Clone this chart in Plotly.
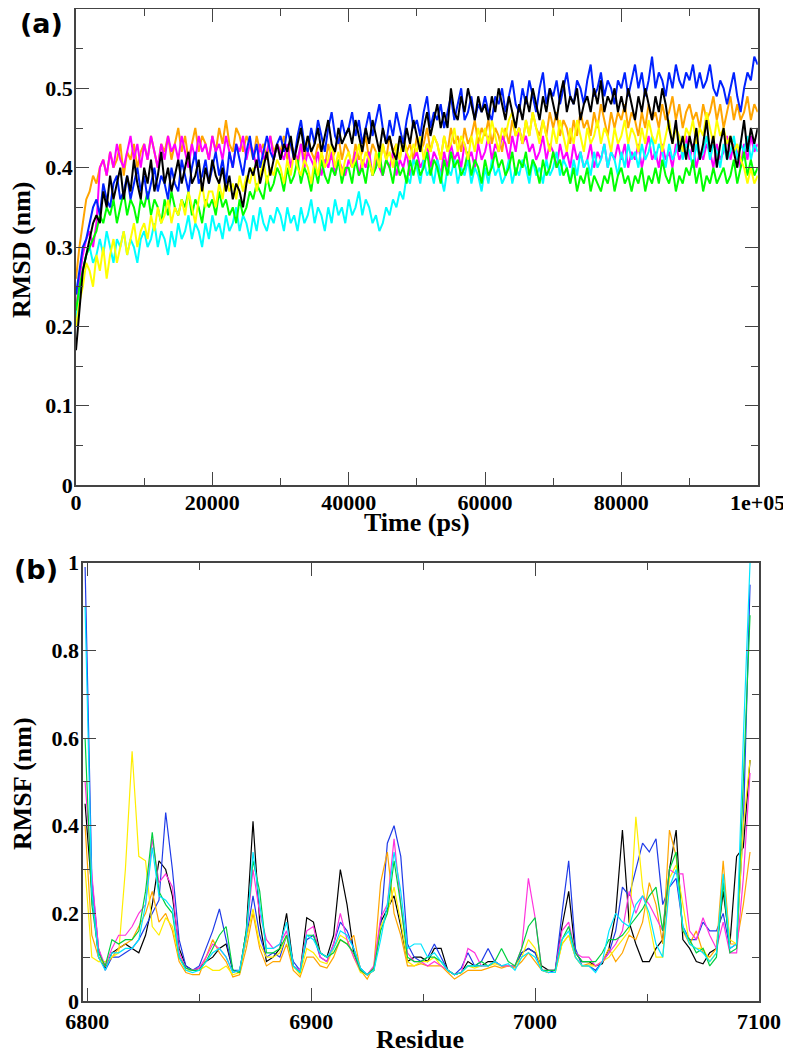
import plotly.graph_objects as go

# ---------------- Panel (a): RMSD vs time ----------------
time_ps = list(range(0, 100001, 500))

rmsd_blue = [
    0.24,0.27,0.30,0.31,0.33,0.35,0.36,0.34,0.38,0.36,0.35,0.38,0.39,0.36,0.37,0.39,0.36,0.38,0.40,0.37,
    0.39,0.36,0.38,0.40,0.37,0.39,0.38,0.36,0.40,0.38,0.37,0.41,0.39,0.37,0.40,0.42,0.38,0.39,0.41,0.38,
    0.40,0.42,0.39,0.41,0.38,0.42,0.40,0.43,0.41,0.39,0.42,0.44,0.41,0.43,0.40,0.42,0.44,0.42,0.41,0.43,
    0.44,0.42,0.45,0.43,0.41,0.44,0.46,0.43,0.42,0.45,0.43,0.46,0.44,0.42,0.45,0.47,0.44,0.43,0.46,0.44,
    0.45,0.47,0.44,0.46,0.43,0.45,0.47,0.44,0.46,0.48,0.45,0.43,0.46,0.44,0.47,0.45,0.43,0.46,0.48,0.45,
    0.46,0.44,0.47,0.49,0.45,0.47,0.46,0.48,0.45,0.47,0.49,0.46,0.48,0.50,0.46,0.47,0.49,0.46,0.48,0.47,
    0.49,0.47,0.46,0.49,0.48,0.50,0.47,0.49,0.51,0.48,0.47,0.50,0.48,0.51,0.49,0.47,0.50,0.52,0.48,0.50,
    0.49,0.51,0.48,0.50,0.52,0.49,0.48,0.51,0.50,0.48,0.51,0.53,0.49,0.50,0.52,0.49,0.51,0.50,0.48,0.51,
    0.50,0.52,0.49,0.51,0.53,0.50,0.52,0.49,0.51,0.54,0.50,0.52,0.51,0.49,0.52,0.50,0.53,0.51,0.50,0.52,
    0.51,0.53,0.50,0.52,0.50,0.51,0.53,0.50,0.49,0.51,0.50,0.48,0.50,0.52,0.49,0.47,0.50,0.52,0.51,0.54,
    0.53]
rmsd_black = [
    0.17,0.22,0.27,0.29,0.31,0.33,0.34,0.33,0.37,0.35,0.39,0.36,0.38,0.40,0.36,0.39,0.37,0.41,0.38,0.36,
    0.40,0.38,0.41,0.37,0.39,0.42,0.38,0.40,0.37,0.39,0.41,0.38,0.40,0.42,0.38,0.39,0.41,0.37,0.40,0.38,
    0.41,0.39,0.38,0.40,0.37,0.39,0.36,0.38,0.37,0.35,0.38,0.40,0.39,0.41,0.38,0.40,0.42,0.39,0.41,0.43,
    0.41,0.43,0.42,0.44,0.41,0.43,0.45,0.42,0.44,0.42,0.43,0.45,0.42,0.44,0.46,0.43,0.42,0.45,0.43,0.44,
    0.45,0.43,0.46,0.44,0.42,0.45,0.43,0.46,0.44,0.42,0.45,0.43,0.44,0.42,0.41,0.44,0.42,0.45,0.43,0.46,
    0.44,0.42,0.45,0.47,0.44,0.46,0.48,0.45,0.47,0.45,0.50,0.47,0.46,0.49,0.47,0.50,0.48,0.46,0.49,0.47,
    0.48,0.46,0.49,0.47,0.50,0.48,0.46,0.49,0.47,0.45,0.48,0.46,0.49,0.47,0.50,0.48,0.46,0.49,0.47,0.50,
    0.48,0.46,0.49,0.51,0.47,0.49,0.48,0.50,0.46,0.48,0.49,0.47,0.50,0.48,0.51,0.47,0.49,0.48,0.50,0.47,
    0.49,0.47,0.50,0.48,0.46,0.49,0.47,0.50,0.48,0.46,0.49,0.47,0.50,0.48,0.45,0.43,0.46,0.42,0.44,0.41,
    0.44,0.42,0.45,0.41,0.43,0.46,0.42,0.44,0.40,0.43,0.45,0.41,0.44,0.42,0.40,0.43,0.46,0.42,0.45,0.43,
    0.45]
rmsd_orange = [
    0.26,0.30,0.33,0.36,0.37,0.39,0.38,0.40,0.41,0.39,0.42,0.40,0.41,0.43,0.39,0.42,0.41,0.43,0.40,0.42,
    0.43,0.41,0.44,0.42,0.40,0.43,0.42,0.44,0.41,0.43,0.45,0.42,0.44,0.41,0.43,0.45,0.42,0.44,0.43,0.41,
    0.44,0.42,0.45,0.43,0.46,0.43,0.42,0.45,0.44,0.42,0.44,0.43,0.41,0.44,0.42,0.43,0.41,0.44,0.42,0.43,
    0.42,0.44,0.41,0.43,0.42,0.40,0.43,0.41,0.44,0.42,0.41,0.43,0.42,0.40,0.43,0.41,0.42,0.44,0.41,0.43,
    0.42,0.40,0.43,0.41,0.42,0.44,0.41,0.43,0.42,0.40,0.43,0.41,0.44,0.42,0.43,0.41,0.44,0.42,0.43,0.41,
    0.44,0.42,0.43,0.45,0.42,0.44,0.43,0.41,0.44,0.42,0.45,0.43,0.44,0.42,0.45,0.43,0.44,0.46,0.43,0.45,
    0.44,0.46,0.43,0.45,0.44,0.42,0.45,0.43,0.46,0.44,0.45,0.43,0.46,0.44,0.47,0.45,0.44,0.46,0.44,0.47,
    0.45,0.47,0.44,0.46,0.45,0.43,0.46,0.44,0.47,0.45,0.46,0.44,0.47,0.45,0.48,0.46,0.44,0.47,0.45,0.47,
    0.46,0.48,0.45,0.47,0.46,0.44,0.47,0.45,0.48,0.46,0.47,0.45,0.48,0.46,0.47,0.49,0.46,0.48,0.45,0.47,
    0.48,0.46,0.47,0.45,0.48,0.46,0.47,0.49,0.46,0.48,0.45,0.47,0.49,0.46,0.48,0.46,0.47,0.49,0.46,0.48,
    0.47]
rmsd_magenta = [
    0.22,0.26,0.29,0.31,0.32,0.30,0.33,0.40,0.41,0.39,0.42,0.40,0.43,0.41,0.40,0.42,0.44,0.41,0.43,0.40,
    0.43,0.41,0.44,0.42,0.40,0.43,0.41,0.44,0.42,0.43,0.41,0.44,0.42,0.40,0.43,0.41,0.44,0.42,0.43,0.41,
    0.44,0.42,0.43,0.41,0.44,0.42,0.40,0.43,0.42,0.44,0.41,0.43,0.42,0.40,0.43,0.41,0.42,0.44,0.41,0.43,
    0.42,0.41,0.43,0.40,0.42,0.41,0.43,0.40,0.42,0.41,0.40,0.42,0.39,0.41,0.40,0.42,0.39,0.41,0.40,0.39,
    0.41,0.40,0.42,0.39,0.41,0.40,0.42,0.39,0.41,0.40,0.39,0.41,0.40,0.42,0.39,0.41,0.40,0.42,0.39,0.41,
    0.42,0.40,0.41,0.43,0.40,0.42,0.41,0.39,0.42,0.40,0.43,0.41,0.42,0.40,0.43,0.41,0.42,0.40,0.43,0.41,
    0.42,0.44,0.41,0.43,0.42,0.44,0.43,0.41,0.44,0.42,0.45,0.43,0.44,0.42,0.43,0.41,0.42,0.44,0.41,0.43,
    0.42,0.40,0.43,0.41,0.42,0.40,0.43,0.41,0.42,0.40,0.41,0.43,0.40,0.42,0.41,0.43,0.40,0.42,0.41,0.43,
    0.41,0.43,0.40,0.42,0.41,0.43,0.40,0.42,0.44,0.41,0.42,0.40,0.43,0.41,0.42,0.40,0.43,0.41,0.42,0.44,
    0.41,0.43,0.40,0.42,0.41,0.43,0.42,0.40,0.43,0.41,0.42,0.44,0.41,0.43,0.42,0.40,0.43,0.41,0.44,0.42,
    0.43]
rmsd_yellow = [
    0.20,0.23,0.25,0.28,0.27,0.25,0.29,0.27,0.30,0.26,0.29,0.31,0.28,0.30,0.32,0.29,0.31,0.33,0.30,0.32,
    0.33,0.31,0.34,0.32,0.35,0.33,0.34,0.36,0.33,0.35,0.34,0.36,0.34,0.37,0.35,0.33,0.36,0.38,0.35,0.37,
    0.37,0.35,0.38,0.36,0.39,0.37,0.38,0.36,0.39,0.37,0.39,0.38,0.40,0.37,0.39,0.41,0.38,0.40,0.39,0.41,
    0.40,0.38,0.41,0.39,0.42,0.40,0.39,0.41,0.40,0.38,0.41,0.39,0.42,0.40,0.41,0.43,0.40,0.42,0.39,0.41,
    0.42,0.40,0.41,0.43,0.40,0.42,0.41,0.39,0.42,0.40,0.43,0.41,0.42,0.40,0.43,0.41,0.44,0.42,0.41,0.43,
    0.42,0.44,0.41,0.43,0.42,0.44,0.43,0.41,0.44,0.42,0.43,0.45,0.42,0.44,0.43,0.41,0.44,0.42,0.45,0.43,
    0.45,0.43,0.46,0.44,0.42,0.45,0.44,0.46,0.47,0.44,0.45,0.43,0.46,0.44,0.47,0.45,0.43,0.46,0.44,0.42,
    0.45,0.43,0.46,0.44,0.42,0.45,0.43,0.46,0.44,0.42,0.45,0.43,0.44,0.46,0.43,0.45,0.44,0.42,0.45,0.43,
    0.44,0.46,0.43,0.45,0.44,0.42,0.45,0.43,0.46,0.44,0.43,0.45,0.42,0.44,0.46,0.43,0.45,0.44,0.42,0.45,
    0.44,0.46,0.43,0.45,0.44,0.47,0.45,0.43,0.46,0.44,0.45,0.43,0.44,0.42,0.43,0.41,0.40,0.38,0.40,0.38,
    0.39]
rmsd_green = [
    0.22,0.25,0.27,0.29,0.30,0.31,0.32,0.34,0.33,0.35,0.34,0.36,0.33,0.35,0.37,0.34,0.36,0.35,0.33,0.36,
    0.35,0.37,0.34,0.36,0.35,0.33,0.36,0.34,0.37,0.35,0.34,0.36,0.35,0.37,0.34,0.36,0.35,0.33,0.36,0.35,
    0.36,0.34,0.37,0.35,0.36,0.34,0.35,0.33,0.36,0.34,0.35,0.37,0.36,0.38,0.37,0.36,0.39,0.37,0.38,0.40,
    0.39,0.37,0.40,0.38,0.39,0.41,0.38,0.40,0.39,0.37,0.40,0.38,0.41,0.39,0.38,0.40,0.39,0.41,0.38,0.40,
    0.40,0.38,0.41,0.39,0.40,0.38,0.41,0.39,0.40,0.42,0.39,0.41,0.40,0.38,0.41,0.39,0.40,0.38,0.41,0.39,
    0.41,0.39,0.40,0.42,0.39,0.41,0.40,0.38,0.41,0.39,0.42,0.40,0.41,0.39,0.40,0.42,0.39,0.41,0.40,0.38,
    0.41,0.39,0.40,0.42,0.40,0.41,0.39,0.40,0.42,0.39,0.41,0.40,0.42,0.39,0.41,0.40,0.38,0.41,0.39,0.40,
    0.42,0.40,0.41,0.39,0.40,0.38,0.40,0.37,0.39,0.38,0.40,0.37,0.39,0.38,0.37,0.39,0.38,0.40,0.37,0.39,
    0.40,0.38,0.39,0.37,0.39,0.38,0.40,0.37,0.39,0.38,0.40,0.38,0.41,0.39,0.38,0.40,0.37,0.39,0.38,0.40,
    0.39,0.41,0.38,0.40,0.37,0.39,0.38,0.40,0.38,0.39,0.40,0.38,0.39,0.41,0.38,0.40,0.42,0.39,0.41,0.39,
    0.40]
rmsd_cyan = [
    0.21,0.24,0.27,0.29,0.30,0.28,0.29,0.31,0.29,0.32,0.30,0.28,0.31,0.30,0.32,0.29,0.31,0.30,0.28,0.31,
    0.32,0.30,0.31,0.33,0.30,0.32,0.31,0.29,0.32,0.30,0.33,0.31,0.32,0.34,0.31,0.33,0.32,0.30,0.33,0.31,
    0.34,0.32,0.33,0.31,0.34,0.32,0.33,0.35,0.32,0.34,0.33,0.31,0.34,0.32,0.35,0.33,0.32,0.34,0.33,0.35,
    0.34,0.32,0.35,0.33,0.34,0.32,0.35,0.33,0.34,0.36,0.33,0.35,0.34,0.32,0.35,0.33,0.36,0.34,0.35,0.33,
    0.36,0.34,0.35,0.37,0.34,0.36,0.35,0.33,0.34,0.32,0.33,0.35,0.34,0.36,0.35,0.37,0.36,0.39,0.38,0.41,
    0.40,0.38,0.41,0.39,0.40,0.38,0.41,0.39,0.37,0.40,0.39,0.41,0.38,0.40,0.39,0.41,0.38,0.40,0.39,0.37,
    0.40,0.38,0.41,0.39,0.40,0.38,0.39,0.41,0.38,0.40,0.39,0.41,0.40,0.38,0.41,0.39,0.40,0.38,0.41,0.39,
    0.40,0.42,0.39,0.41,0.40,0.38,0.41,0.39,0.42,0.40,0.41,0.39,0.42,0.40,0.41,0.43,0.40,0.42,0.41,0.39,
    0.42,0.40,0.43,0.41,0.42,0.40,0.43,0.41,0.42,0.44,0.41,0.43,0.42,0.40,0.43,0.41,0.42,0.44,0.41,0.43,
    0.42,0.40,0.43,0.41,0.42,0.44,0.41,0.43,0.42,0.40,0.43,0.41,0.42,0.44,0.41,0.43,0.42,0.44,0.41,0.43,
    0.42]

time_tickvals = [0, 20000, 40000, 60000, 80000, 100000]
time_ticktext = ["0", "20000", "40000", "60000", "80000", "1e+05"]
rmsd_tickvals = [0, 0.1, 0.2, 0.3, 0.4, 0.5]
rmsd_ticktext = ["0", "0.1", "0.2", "0.3", "0.4", "0.5"]

# ---------------- Panel (b): RMSF vs residue ----------------
residues = list(range(6799, 7097, 3))

rmsf_black = [0.45,0.25,0.10,0.075,0.11,0.12,0.13,0.12,0.11,0.15,
              0.22,0.32,0.30,0.24,0.12,0.08,0.07,0.075,0.09,0.10,
              0.12,0.13,0.07,0.065,0.16,0.41,0.18,0.09,0.10,0.12,
              0.20,0.08,0.065,0.19,0.18,0.11,0.10,0.15,0.30,0.22,
              0.11,0.07,0.06,0.07,0.18,0.21,0.24,0.17,0.09,0.10,
              0.10,0.09,0.12,0.12,0.07,0.06,0.065,0.09,0.08,0.08,
              0.09,0.09,0.08,0.08,0.08,0.11,0.12,0.11,0.08,0.07,
              0.07,0.17,0.25,0.11,0.09,0.09,0.08,0.085,0.12,0.20,
              0.39,0.18,0.13,0.09,0.09,0.12,0.14,0.30,0.39,0.14,
              0.12,0.09,0.085,0.11,0.12,0.25,0.13,0.33,0.35,0.55]
rmsf_blue = [0.99,0.28,0.12,0.07,0.10,0.10,0.11,0.12,0.14,0.17,
             0.20,0.23,0.43,0.30,0.14,0.08,0.07,0.08,0.12,0.16,
             0.21,0.14,0.07,0.07,0.14,0.24,0.15,0.10,0.11,0.10,
             0.15,0.09,0.07,0.14,0.15,0.10,0.09,0.13,0.18,0.16,
             0.12,0.075,0.06,0.075,0.17,0.36,0.40,0.33,0.13,0.10,
             0.09,0.10,0.13,0.10,0.07,0.06,0.075,0.11,0.08,0.09,
             0.12,0.09,0.08,0.08,0.08,0.11,0.12,0.11,0.07,0.065,
             0.07,0.20,0.32,0.12,0.08,0.08,0.07,0.09,0.11,0.16,
             0.26,0.24,0.30,0.36,0.34,0.37,0.22,0.26,0.28,0.17,
             0.14,0.14,0.18,0.16,0.16,0.20,0.12,0.13,0.40,0.95]
rmsf_orange = [0.40,0.15,0.10,0.08,0.10,0.12,0.13,0.14,0.17,0.20,
               0.25,0.18,0.20,0.16,0.09,0.065,0.06,0.06,0.10,0.14,
               0.11,0.09,0.055,0.06,0.12,0.20,0.12,0.08,0.09,0.09,
               0.13,0.07,0.055,0.10,0.10,0.08,0.075,0.10,0.14,0.13,
               0.15,0.07,0.05,0.08,0.27,0.34,0.20,0.15,0.08,0.08,
               0.085,0.08,0.08,0.08,0.065,0.05,0.06,0.07,0.07,0.07,
               0.075,0.08,0.075,0.08,0.075,0.09,0.11,0.09,0.07,0.065,
               0.065,0.13,0.15,0.10,0.08,0.085,0.08,0.09,0.12,0.09,
               0.11,0.15,0.14,0.18,0.27,0.22,0.13,0.39,0.33,0.16,
               0.13,0.16,0.11,0.10,0.12,0.32,0.13,0.13,0.22,0.34]
rmsf_magenta = [0.50,0.29,0.12,0.08,0.12,0.15,0.15,0.17,0.20,0.22,
                0.37,0.27,0.29,0.26,0.11,0.075,0.07,0.075,0.10,0.13,
                0.12,0.10,0.065,0.07,0.15,0.30,0.20,0.14,0.12,0.13,
                0.16,0.08,0.07,0.16,0.17,0.10,0.09,0.13,0.20,0.14,
                0.10,0.07,0.06,0.08,0.19,0.22,0.37,0.22,0.11,0.09,
                0.09,0.08,0.09,0.08,0.07,0.06,0.065,0.12,0.11,0.08,
                0.08,0.09,0.08,0.08,0.08,0.12,0.28,0.19,0.07,0.07,
                0.07,0.16,0.18,0.11,0.10,0.10,0.08,0.09,0.11,0.13,
                0.16,0.25,0.20,0.24,0.22,0.19,0.16,0.30,0.29,0.29,
                0.16,0.14,0.19,0.15,0.12,0.18,0.11,0.11,0.28,0.52]
rmsf_yellow = [0.30,0.10,0.09,0.09,0.10,0.11,0.30,0.57,0.33,0.32,
               0.17,0.15,0.19,0.17,0.10,0.07,0.07,0.07,0.08,0.07,
               0.07,0.08,0.06,0.065,0.14,0.21,0.13,0.10,0.10,0.11,
               0.15,0.08,0.06,0.12,0.11,0.09,0.085,0.12,0.15,0.14,
               0.10,0.065,0.06,0.07,0.17,0.20,0.26,0.18,0.09,0.08,
               0.09,0.09,0.10,0.08,0.07,0.06,0.065,0.08,0.075,0.08,
               0.08,0.085,0.08,0.08,0.08,0.10,0.14,0.12,0.07,0.065,
               0.065,0.13,0.15,0.10,0.08,0.08,0.08,0.09,0.10,0.12,
               0.14,0.16,0.42,0.26,0.18,0.10,0.10,0.28,0.31,0.22,
               0.13,0.12,0.12,0.09,0.11,0.28,0.14,0.13,0.40,0.55]
rmsf_green = [0.60,0.22,0.11,0.08,0.14,0.13,0.14,0.14,0.16,0.25,
              0.385,0.25,0.22,0.20,0.10,0.075,0.07,0.07,0.09,0.12,
              0.15,0.17,0.07,0.065,0.16,0.32,0.25,0.11,0.11,0.12,
              0.15,0.08,0.065,0.15,0.15,0.11,0.10,0.11,0.14,0.13,
              0.11,0.07,0.06,0.075,0.16,0.20,0.32,0.22,0.10,0.09,
              0.09,0.10,0.10,0.09,0.07,0.06,0.065,0.08,0.08,0.09,
              0.08,0.09,0.12,0.09,0.08,0.12,0.17,0.19,0.07,0.07,
              0.07,0.14,0.17,0.11,0.09,0.09,0.09,0.11,0.14,0.14,
              0.15,0.17,0.19,0.21,0.24,0.26,0.16,0.30,0.34,0.16,
              0.14,0.11,0.12,0.08,0.10,0.27,0.11,0.12,0.50,0.88]
rmsf_cyan = [0.90,0.25,0.10,0.07,0.11,0.11,0.12,0.12,0.14,0.22,
             0.35,0.24,0.23,0.21,0.10,0.07,0.065,0.07,0.09,0.11,
             0.12,0.10,0.065,0.07,0.15,0.34,0.22,0.12,0.12,0.13,
             0.18,0.08,0.065,0.15,0.14,0.11,0.10,0.12,0.16,0.15,
             0.12,0.075,0.06,0.07,0.14,0.22,0.34,0.25,0.12,0.13,
             0.13,0.10,0.11,0.09,0.07,0.06,0.065,0.08,0.08,0.08,
             0.08,0.09,0.08,0.085,0.07,0.10,0.11,0.10,0.07,0.065,
             0.065,0.14,0.16,0.10,0.08,0.08,0.065,0.09,0.16,0.20,
             0.18,0.17,0.22,0.24,0.20,0.13,0.10,0.26,0.30,0.17,
             0.13,0.12,0.11,0.09,0.11,0.29,0.12,0.13,0.60,1.00]

res_tickvals = [6800, 6900, 7000, 7100]
res_ticktext = ["6800", "6900", "7000", "7100"]
rmsf_tickvals = [0, 0.2, 0.4, 0.6, 0.8, 1.0]
rmsf_ticktext = ["0", "0.2", "0.4", "0.6", "0.8", "1"]

# ---------------- figure ----------------
# The page body keeps its default 8 px margin: the figure starts 8 px in,
# so it is made 8 px smaller than the window and positions are offset.
OFF = 8
W, H = 791 - OFF, 1054 - OFF
fig = go.Figure()

rmsd_series = [
    (rmsd_orange, "#ffa500"),
    (rmsd_magenta, "#ff00ff"),
    (rmsd_cyan, "#00ffff"),
    (rmsd_green, "#00ff00"),
    (rmsd_yellow, "#ffff00"),
    (rmsd_blue, "#0022ff"),
    (rmsd_black, "#000000"),
]
for vals, col in rmsd_series:
    fig.add_trace(go.Scatter(x=time_ps, y=vals, mode="lines",
                             line=dict(color=col, width=2.0),
                             xaxis="x", yaxis="y", showlegend=False,
                             hoverinfo="skip"))

rmsf_series = [
    (rmsf_black, "#000000"),
    (rmsf_blue, "#1f3be8"),
    (rmsf_orange, "#ffa500"),
    (rmsf_yellow, "#ffee00"),
    (rmsf_magenta, "#ff33dd"),
    (rmsf_green, "#00d040"),
    (rmsf_cyan, "#00e5ff"),
]
for vals, col in rmsf_series:
    fig.add_trace(go.Scatter(x=residues, y=vals, mode="lines",
                             line=dict(color=col, width=1.2),
                             xaxis="x2", yaxis="y2", showlegend=False,
                             hoverinfo="skip"))

tickfont = dict(family="Liberation Serif", size=22, color="black", weight="bold")
axcol = "#444444"
common = dict(showgrid=False, zeroline=False, showline=True, linecolor=axcol,
              linewidth=1.6, mirror="allticks", ticks="inside", ticklen=13,
              tickwidth=1.4, tickcolor=axcol, tickfont=tickfont, tickmode="array",
              automargin=False, ticklabeloverflow="allow")

def px_x(p):
    return (p - OFF) / W

def px_y(p):
    return 1 - (p - OFF) / H

fig.update_layout(
    width=W, height=H,
    margin=dict(l=0, r=0, t=0, b=0, autoexpand=False),
    paper_bgcolor="white", plot_bgcolor="white",
    xaxis=dict(domain=[px_x(76), px_x(757.7)], anchor="y", range=[0, 100000],
               tickvals=time_tickvals, ticktext=time_ticktext, ticklabelstandoff=-3,
               minor=dict(tickvals=[10000, 30000, 50000, 70000, 90000],
                          ticks="inside", ticklen=7, tickcolor=axcol, tickwidth=1.4),
               **common),
    yaxis=dict(domain=[px_y(485), px_y(9)], anchor="x", range=[0, 0.6],
               tickvals=rmsd_tickvals, ticktext=rmsd_ticktext, ticklabelstandoff=-3,
               minor=dict(tickvals=[0.05, 0.15, 0.25, 0.35, 0.45, 0.55],
                          ticks="inside", ticklen=7, tickcolor=axcol, tickwidth=1.4),
               **common),
    xaxis2=dict(domain=[px_x(83.3), px_x(759)], anchor="y2", range=[6798.2, 7100],
                tickvals=res_tickvals, ticktext=res_ticktext, ticklabelstandoff=0,
                minor=dict(tickvals=[6850, 6950, 7050],
                           ticks="inside", ticklen=7, tickcolor=axcol, tickwidth=1.4),
                **common),
    yaxis2=dict(domain=[px_y(1001), px_y(562.7)], anchor="x2", range=[0, 1.0],
                tickvals=rmsf_tickvals, ticktext=rmsf_ticktext, ticklabelstandoff=-2,
                minor=dict(tickvals=[0.1, 0.3, 0.5, 0.7, 0.9],
                           ticks="inside", ticklen=7, tickcolor=axcol, tickwidth=1.4),
                **common),
)

title_font = dict(family="Liberation Serif", size=26, color="black", weight="bold")
label_font = dict(family="DejaVu Sans", size=27, color="black", weight="bold")
annos = [
    dict(text="Time (ps)", x=px_x(417), y=px_y(522), font=title_font, textangle=0),
    dict(text="RMSD (nm)", x=px_x(22), y=px_y(250), font=title_font, textangle=-90),
    dict(text="Residue", x=px_x(420), y=px_y(1039), font=title_font, textangle=0),
    dict(text="RMSF (nm)", x=px_x(22), y=px_y(784), font=title_font, textangle=-90),
    dict(text="(a)", x=px_x(41), y=px_y(24), font=label_font, textangle=0),
    dict(text="(b)", x=px_x(36), y=px_y(569), font=label_font, textangle=0),
]
for a in annos:
    fig.add_annotation(xref="paper", yref="paper", showarrow=False,
                       xanchor="center", yanchor="middle", **a)

fig.write_html("out.html")
